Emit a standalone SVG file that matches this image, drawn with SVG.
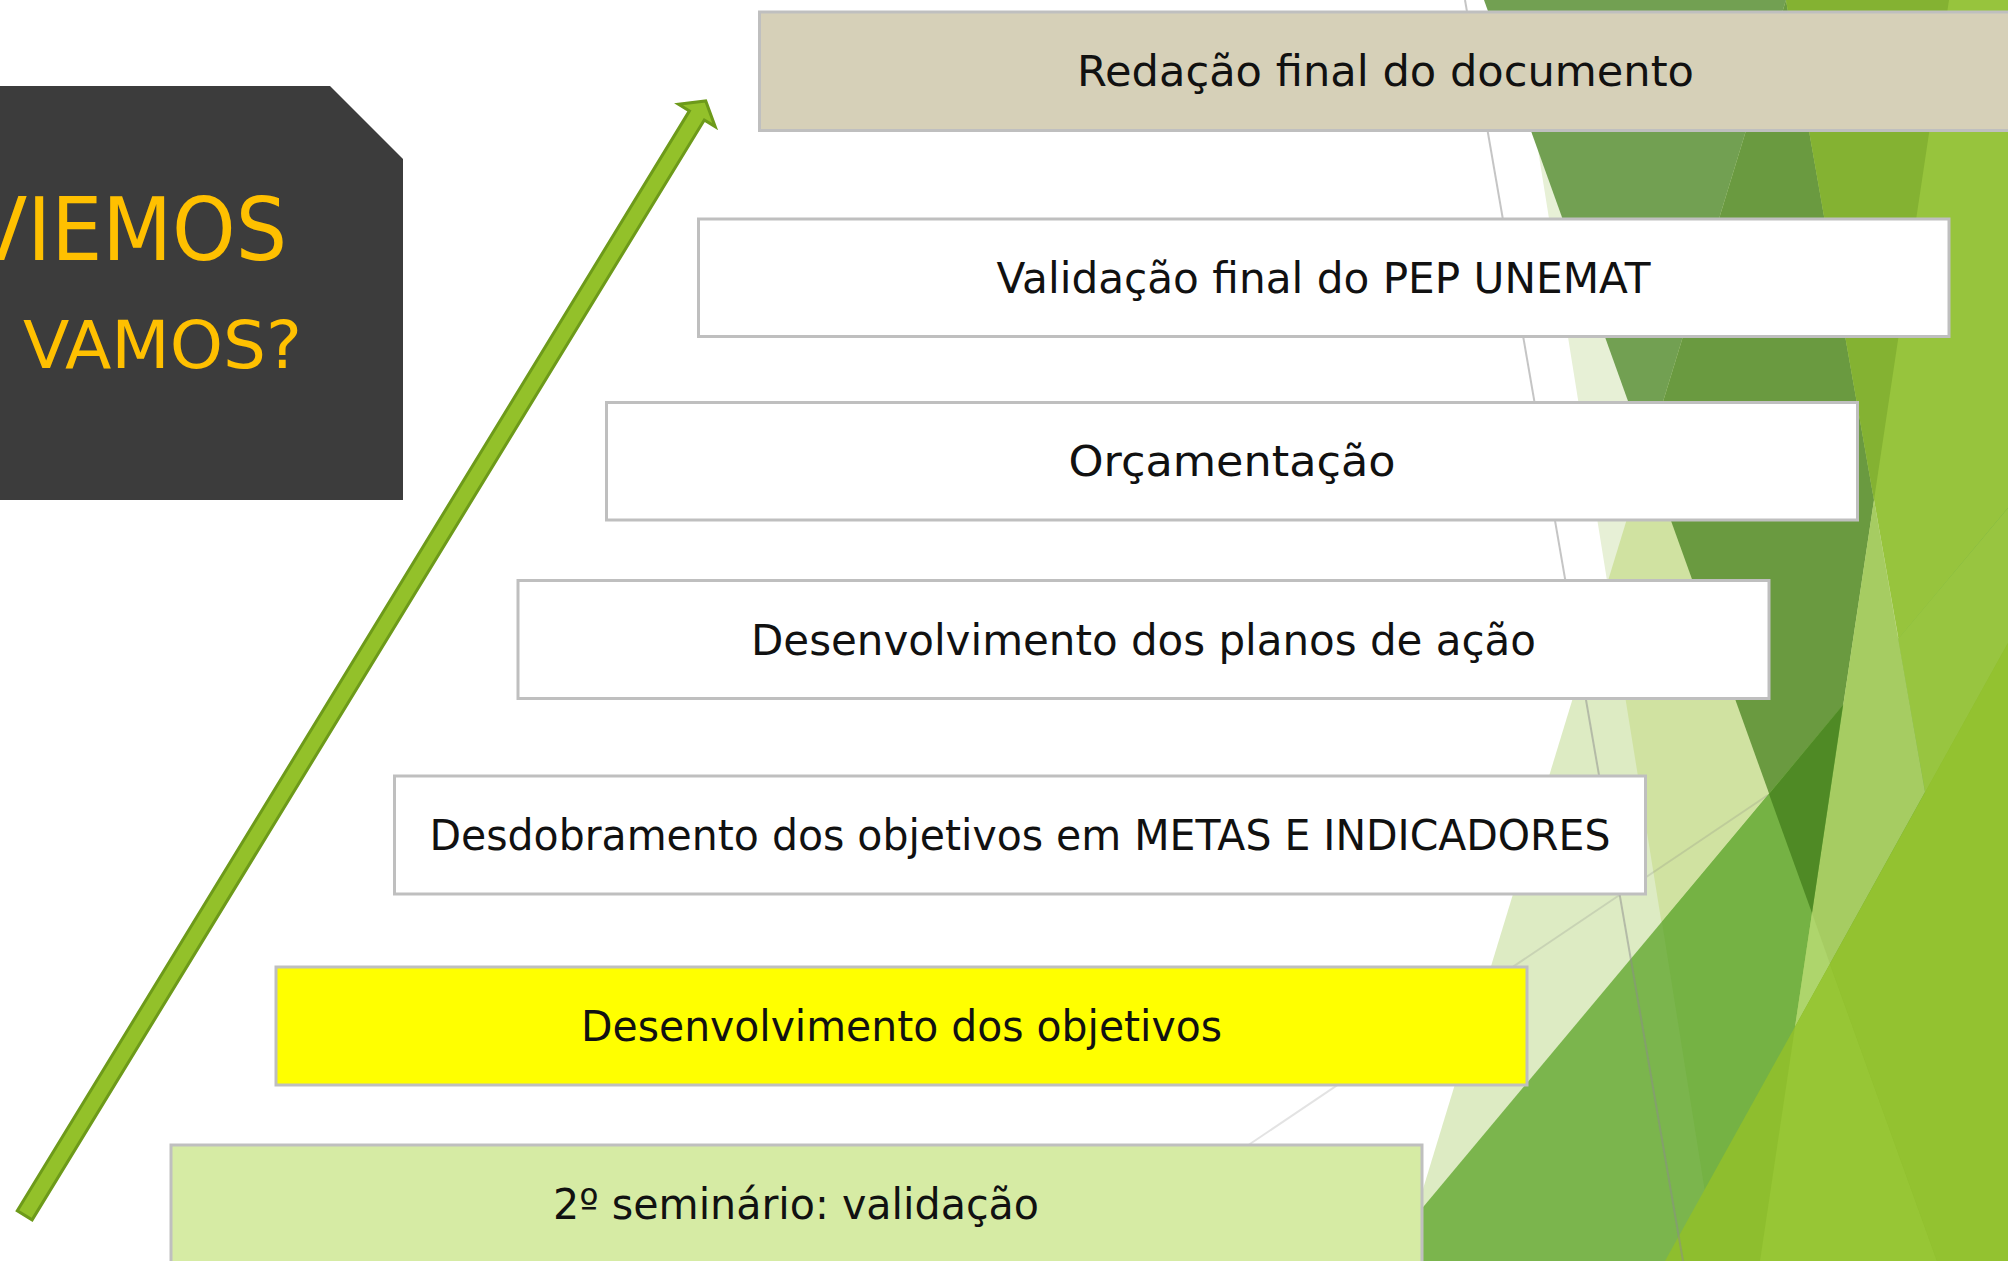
<svg xmlns="http://www.w3.org/2000/svg" width="2008" height="1261" viewBox="0 0 2008 1261">
<style>
.box{stroke:#BFBFBF;stroke-width:3}
.lbl{font-family:"DejaVu Sans","Liberation Sans",sans-serif;font-size:42.67px;fill:#111111;text-anchor:middle}
.title{font-family:"DejaVu Sans","Liberation Sans",sans-serif;fill:#FFC000}
.thin{fill:none;stroke-width:2}
</style>
<rect x="0" y="0" width="2008" height="1261" fill="#FFFFFF"/>
<g id="background-facets">
<polygon points="1514,0 2008,0 2008,1261 1716,1261" fill="#E7F0D6"/>
<polygon points="1786,0 1401,1261 2008,1261" fill="#DDEBC3"/>
<polygon points="1786,0 1607,584 1716,1261 2008,1261" fill="#D0E2A1"/>
<polygon points="1786,0 2008,0 2008,1261" fill="#97C43D"/>
<polygon points="1484,0 1786,0 1647,454" fill="#72A052"/>
<polygon points="1786,0 1874,500 1812,913 1647,454" fill="#6A9A40"/>
<polygon points="1786,0 1949,0 1874,500" fill="#84B232"/>
<polygon points="1378,1261 2008,508 2008,1261" fill="#7BB54D"/>
<polygon points="1662,922 2008,508 2008,1261 1716,1261" fill="#75B244"/>
<polygon points="1898,639 2008,508 2008,1261" fill="#98C540"/>
<polygon points="1874,500 1925,792 1795,1027 1812,913" fill="#A6CC62"/>
<polygon points="1812,913 1830,964 1795,1027" fill="#AED56C"/>
<polygon points="1769,794 1843,705 1812,913" fill="#4F8A25"/>
<polygon points="1665,1261 2008,643 2008,1261" fill="#8EBE2E"/>
<polygon points="1795,1027 1830,964 1937,1261 1760,1261" fill="#97C635"/>
<polygon points="1830,964 2008,643 2008,1261 1937,1261" fill="#93C230"/>
<line class="thin" x1="1465" y1="0" x2="1683" y2="1261" stroke="#8C8C8C" stroke-opacity="0.5"/>
<line class="thin" x1="1100" y1="1245" x2="1768" y2="795" stroke="#808080" stroke-opacity="0.22"/>
</g>
<g id="title">
<polygon points="0,86 330,86 403,159 403,500 0,500" fill="#3C3C3C"/>
<text class="title" x="-28" y="260" font-size="88" textLength="315" lengthAdjust="spacingAndGlyphs">VIEMOS</text>
<text class="title" x="23" y="368" font-size="66" textLength="279" lengthAdjust="spacingAndGlyphs">VAMOS?</text>
</g>
<g id="connectors">
<polygon transform="translate(24.7,1215.3) rotate(-58.57)" points="0,-8.7 1289,-8.7 1289,-21.5 1306,0 1289,21.5 1289,8.7 0,8.7" fill="#93C12A" stroke="#6D9A1A" stroke-width="3" stroke-linejoin="miter"/>
</g>
<g id="node-redacao">
<rect class="box" x="759.5" y="12" width="1252" height="118.5" fill="#D6D0B8"/>
<text class="lbl" x="1385.5" y="86" textLength="617" lengthAdjust="spacingAndGlyphs">Redação final do documento</text>
</g>
<g id="node-validacao-final">
<rect class="box" x="698.5" y="219" width="1250.5" height="117.5" fill="#FFFFFF"/>
<text class="lbl" x="1323.5" y="293" textLength="654" lengthAdjust="spacingAndGlyphs">Validação final do PEP UNEMAT</text>
</g>
<g id="node-orcamentacao">
<rect class="box" x="606.5" y="402.5" width="1251" height="117.5" fill="#FFFFFF"/>
<text class="lbl" x="1232" y="476" textLength="327" lengthAdjust="spacingAndGlyphs">Orçamentação</text>
</g>
<g id="node-planos">
<rect class="box" x="518" y="580.5" width="1251" height="118" fill="#FFFFFF"/>
<text class="lbl" x="1143.5" y="655" textLength="785" lengthAdjust="spacingAndGlyphs">Desenvolvimento dos planos de ação</text>
</g>
<g id="node-metas">
<rect class="box" x="394.5" y="776" width="1251" height="118" fill="#FFFFFF"/>
<text class="lbl" x="1020" y="850" textLength="1181" lengthAdjust="spacingAndGlyphs">Desdobramento dos objetivos em METAS E INDICADORES</text>
</g>
<g id="node-objetivos">
<rect class="box" x="276" y="967" width="1251" height="118" fill="#FFFF00"/>
<text class="lbl" x="901.5" y="1041" textLength="641" lengthAdjust="spacingAndGlyphs">Desenvolvimento dos objetivos</text>
</g>
<g id="node-seminario">
<rect class="box" x="171" y="1145" width="1251" height="118" fill="#D6EBA4"/>
<text class="lbl" x="796" y="1219" textLength="486" lengthAdjust="spacingAndGlyphs">2º seminário: validação</text>
</g>
</svg>
